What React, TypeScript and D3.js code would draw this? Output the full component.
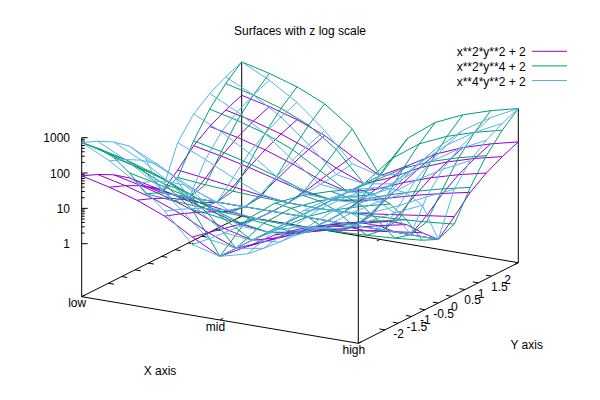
import * as d3 from 'd3';

const xSamples = [-3, -2.4, -1.8, -1.2, -0.6, 0, 0.6, 1.2, 1.8, 2.4, 3];
const ySamples = [-3, -2.4, -1.8, -1.2, -0.6, 0, 0.6, 1.2, 1.8, 2.4, 3];

// z values, one row per x sample, one column per y sample
const surfaceA = [
  [83, 53.8, 31.2, 15, 5.2, 2, 5.2, 15, 31.2, 53.8, 83],
  [53.8, 35.2, 20.7, 10.3, 4.1, 2, 4.1, 10.3, 20.7, 35.2, 53.8],
  [31.2, 20.7, 12.5, 6.7, 3.2, 2, 3.2, 6.7, 12.5, 20.7, 31.2],
  [15, 10.3, 6.7, 4.1, 2.5, 2, 2.5, 4.1, 6.7, 10.3, 15],
  [5.2, 4.1, 3.2, 2.5, 2.1, 2, 2.1, 2.5, 3.2, 4.1, 5.2],
  [2, 2, 2, 2, 2, 2, 2, 2, 2, 2, 2],
  [5.2, 4.1, 3.2, 2.5, 2.1, 2, 2.1, 2.5, 3.2, 4.1, 5.2],
  [15, 10.3, 6.7, 4.1, 2.5, 2, 2.5, 4.1, 6.7, 10.3, 15],
  [31.2, 20.7, 12.5, 6.7, 3.2, 2, 3.2, 6.7, 12.5, 20.7, 31.2],
  [53.8, 35.2, 20.7, 10.3, 4.1, 2, 4.1, 10.3, 20.7, 35.2, 53.8],
  [83, 53.8, 31.2, 15, 5.2, 2, 5.2, 15, 31.2, 53.8, 83],
];

const surfaceB = [
  [731, 300.6, 96.5, 20.7, 3.2, 2, 3.2, 20.7, 96.5, 300.6, 731],
  [468.6, 193.1, 62.5, 13.9, 2.7, 2, 2.7, 13.9, 62.5, 193.1, 468.6],
  [264.4, 109.5, 36, 8.7, 2.4, 2, 2.4, 8.7, 36, 109.5, 264.4],
  [118.6, 49.8, 17.1, 5, 2.2, 2, 2.2, 5, 17.1, 49.8, 118.6],
  [31.2, 13.9, 5.8, 2.7, 2.05, 2, 2.05, 2.7, 5.8, 13.9, 31.2],
  [2, 2, 2, 2, 2, 2, 2, 2, 2, 2, 2],
  [31.2, 13.9, 5.8, 2.7, 2.05, 2, 2.05, 2.7, 5.8, 13.9, 31.2],
  [118.6, 49.8, 17.1, 5, 2.2, 2, 2.2, 5, 17.1, 49.8, 118.6],
  [264.4, 109.5, 36, 8.7, 2.4, 2, 2.4, 8.7, 36, 109.5, 264.4],
  [468.6, 193.1, 62.5, 13.9, 2.7, 2, 2.7, 13.9, 62.5, 193.1, 468.6],
  [731, 300.6, 96.5, 20.7, 3.2, 2, 3.2, 20.7, 96.5, 300.6, 731],
];

const surfaceC = [
  [731, 468.6, 264.4, 118.6, 31.2, 2, 31.2, 118.6, 264.4, 468.6, 731],
  [300.6, 193.1, 109.5, 49.8, 13.9, 2, 13.9, 49.8, 109.5, 193.1, 300.6],
  [96.5, 62.5, 36, 17.1, 5.8, 2, 5.8, 17.1, 36, 62.5, 96.5],
  [20.7, 13.9, 8.7, 5, 2.7, 2, 2.7, 5, 8.7, 13.9, 20.7],
  [3.2, 2.7, 2.4, 2.2, 2.05, 2, 2.05, 2.2, 2.4, 2.7, 3.2],
  [2, 2, 2, 2, 2, 2, 2, 2, 2, 2, 2],
  [3.2, 2.7, 2.4, 2.2, 2.05, 2, 2.05, 2.2, 2.4, 2.7, 3.2],
  [20.7, 13.9, 8.7, 5, 2.7, 2, 2.7, 5, 8.7, 13.9, 20.7],
  [96.5, 62.5, 36, 17.1, 5.8, 2, 5.8, 17.1, 36, 62.5, 96.5],
  [300.6, 193.1, 109.5, 49.8, 13.9, 2, 13.9, 49.8, 109.5, 193.1, 300.6],
  [731, 468.6, 264.4, 118.6, 31.2, 2, 31.2, 118.6, 264.4, 468.6, 731],
];

const seriesNames = ['x**2*y**2 + 2', 'x**2*y**4 + 2', 'x**4*y**2 + 2'];
const seriesColors = ['#9400d3', '#009e73', '#56b4e9'];
const seriesGrids = [surfaceA, surfaceB, surfaceC];

const xTicks = [-3, 0, 3];
const xTickLabels = ['low', 'mid', 'high'];
const yTicks = [-2, -1.5, -1, -0.5, 0, 0.5, 1, 1.5, 2];
const zTicks = [1, 10, 100, 1000];
const zMinor = [2, 3, 4, 5, 6, 7, 8, 9];
const zMax = 731;

const FONT = '"Liberation Sans", Arial, sans-serif';

// oblique projection of the box, origin is the low/-3 base corner
const originX = 81.7;
const originY = 296.7;
const xVec = [276.6, 46.6];
const yVec = [160, -80.6];

const xPos = d3.scaleLinear().domain([-3, 3]).range([0, 1]);
const yPos = d3.scaleLinear().domain([-3, 3]).range([0, 1]);
const zPos = d3.scaleLog().domain([1, 1000]).range([53, 159]);

function base(x: number, y: number): [number, number] {
  const u = xPos(x);
  const v = yPos(y);
  return [originX + u * xVec[0] + v * yVec[0], originY + u * xVec[1] + v * yVec[1]];
}

function project(x: number, y: number, z: number): [number, number] {
  const [px, py] = base(x, y);
  return [px, py - zPos(z)];
}

const line = d3.line<[number, number]>();

function Seg({ a, b }: { a: [number, number]; b: [number, number] }) {
  return <line x1={a[0]} y1={a[1]} x2={b[0]} y2={b[1]} stroke="#000" strokeWidth={1} />;
}

function Surface({ grid, color }: { grid: number[][]; color: string }) {
  const paths: string[] = [];
  xSamples.forEach((x, i) => {
    paths.push(line(ySamples.map((y, j) => project(x, y, grid[i][j]))) as string);
  });
  ySamples.forEach((y, j) => {
    paths.push(line(xSamples.map((x, i) => project(x, y, grid[i][j]))) as string);
  });
  return (
    <g fill="none" stroke={color} strokeWidth={1}>
      {paths.map((d, i) => <path key={i} d={d} />)}
    </g>
  );
}

export default function App() {
  const xTickLen = 0.12; // in x units for y ticks
  const yTickLen = 0.12;
  const zAxisX = originX;

  return (
    <svg width={600} height={400} style={{ position: 'absolute', left: 0, top: 0, background: '#fff' }} fontFamily={FONT} fontSize={12} fill="#000">
      {/* base box */}
      <Seg a={base(-3, -3)} b={base(3, -3)} />
      <Seg a={base(3, -3)} b={base(3, 3)} />
      <Seg a={base(3, 3)} b={base(-3, 3)} />
      <Seg a={base(-3, 3)} b={base(-3, -3)} />

      {/* verticals */}
      <Seg a={base(3, -3)} b={project(3, -3, zMax)} />
      <Seg a={base(3, 3)} b={project(3, 3, zMax)} />
      <Seg a={base(-3, 3)} b={project(-3, 3, zMax)} />
      <Seg a={base(-3, -3)} b={project(-3, -3, 1000)} />

      {/* z axis */}
      {zTicks.map(t => {
        const [px, py] = project(-3, -3, t);
        return (
          <g key={t}>
            <line x1={px} y1={py} x2={px + 6} y2={py} stroke="#000" />
            <text x={70} y={py + 4.5} textAnchor="end">{t}</text>
          </g>
        );
      })}
      {zTicks.slice(0, 3).map(t => zMinor.map(m => {
        const py = project(-3, -3, t * m)[1];
        return <line key={`${t}-${m}`} x1={zAxisX} y1={py} x2={zAxisX + 3} y2={py} stroke="#000" />;
      }))}

      {/* x ticks */}
      {xTicks.map((t, i) => {
        const a = base(t, -3);
        const b = base(t, -3 + yTickLen);
        const c = base(t, 3);
        const d = base(t, 3 - yTickLen);
        return (
          <g key={t}>
            <Seg a={a} b={b} />
            <Seg a={c} b={d} />
            <text x={a[0] - 4.5} y={a[1] + 10.5} textAnchor="middle">{xTickLabels[i]}</text>
          </g>
        );
      })}

      {/* y ticks */}
      {yTicks.map(t => {
        const a = base(3, t);
        const b = base(3 - xTickLen, t);
        const c = base(-3, t);
        const d = base(-3 + xTickLen, t);
        return (
          <g key={t}>
            <Seg a={a} b={b} />
            <Seg a={c} b={d} />
            <text x={a[0] + (t < 0 ? 8.3 : 12.7)} y={a[1] + 8} textAnchor="start">{t}</text>
          </g>
        );
      })}

      {seriesGrids.map((g, i) => <Surface key={i} grid={g} color={seriesColors[i]} />)}

      {/* legend */}
      {seriesNames.map((n, i) => (
        <g key={n}>
          <text x={525.7} y={56 + i * 14.9} textAnchor="end">{n}</text>
          <line x1={532} x2={567} y1={51.3 + i * 14.6} y2={51.3 + i * 14.6} stroke={seriesColors[i]} />
        </g>
      ))}

      <text x={300} y={35} textAnchor="middle">Surfaces with z log scale</text>
      <text x={160} y={375} textAnchor="middle">X axis</text>
      <text x={526.7} y={349} textAnchor="middle">Y axis</text>
    </svg>
  );
}
